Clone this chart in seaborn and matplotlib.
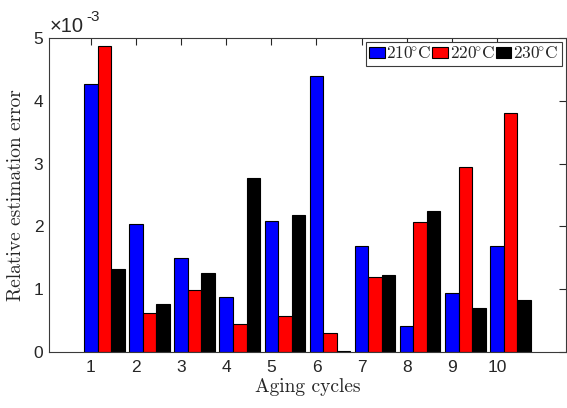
import matplotlib
matplotlib.use("Agg")
import matplotlib.pyplot as plt
import seaborn as sns
import pandas as pd
import numpy as np
from matplotlib.ticker import FuncFormatter, FixedLocator
from matplotlib.patches import Patch

cycles = ["1", "2", "3", "4", "5", "6", "7", "8", "9", "10"]
temps = ["210°C", "220°C", "230°C"]
err_210 = [4.26e-3, 2.03e-3, 1.49e-3, 0.88e-3, 2.09e-3, 4.39e-3, 1.69e-3, 0.42e-3, 0.94e-3, 1.68e-3]
err_220 = [4.88e-3, 0.62e-3, 0.98e-3, 0.44e-3, 0.58e-3, 0.31e-3, 1.19e-3, 2.07e-3, 2.94e-3, 3.80e-3]
err_230 = [1.32e-3, 0.76e-3, 1.26e-3, 2.77e-3, 2.18e-3, 0.01e-3, 1.23e-3, 2.245e-3, 0.70e-3, 0.82e-3]
colors = ["#0000ff", "#ff0000", "#000000"]

df = pd.DataFrame({
    "cycle": cycles * 3,
    "temp": [temps[0]] * 10 + [temps[1]] * 10 + [temps[2]] * 10,
    "err": err_210 + err_220 + err_230,
})

sns.set_style("white")
plt.rcParams["mathtext.fontset"] = "cm"
plt.rcParams["font.family"] = ["Liberation Sans", "DejaVu Sans"]
plt.rcParams["axes.unicode_minus"] = False

fig = plt.figure(figsize=(5.67, 4.08), dpi=100)
ax = fig.add_axes([0.0864, 0.1373, 0.9116, 0.7696])

sns.barplot(data=df, x="cycle", y="err", hue="temp", order=cycles, hue_order=temps,
            palette=colors, width=0.9, saturation=1, errorbar=None,
            edgecolor="black", linewidth=0.8, ax=ax, legend=False)

ax.set_xlim(-1.23, 10.23)
ax.set_ylim(0, 5e-3)
ax.xaxis.set_major_locator(FixedLocator([i - 0.3 for i in range(10)]))
ax.set_xticklabels(cycles)
ax.yaxis.set_major_locator(FixedLocator([0, 1e-3, 2e-3, 3e-3, 4e-3, 5e-3]))
ax.yaxis.set_major_formatter(FuncFormatter(lambda v, p: f"{v*1e3:g}"))
ax.tick_params(direction="in", length=5, width=0.8, top=True, right=True,
               labelsize=12.5, colors="#262626", pad=6)
ax.tick_params(axis="y", pad=4)
for s in ax.spines.values():
    s.set_visible(True)
    s.set_color("#3a3a3a")
    s.set_linewidth(0.8)

ax.text(0.002, 1.005, "×10", transform=ax.transAxes,
        fontsize=14.5, color="#262626", ha="left", va="bottom")
ax.text(0.072, 1.045, "-3", transform=ax.transAxes,
        fontsize=11, color="#262626", ha="left", va="bottom")

ax.set_xlabel("Aging cycles", fontsize=14, labelpad=2, family="cmr10")
ax.set_ylabel("Relative estimation error", fontsize=14, labelpad=6, family="cmr10")

handles = [Patch(facecolor=c, edgecolor="black", linewidth=0.8) for c in colors]
labels = [r"$\mathrm{" + t[:3] + r"}\!^{\circ}\mathrm{C}$" for t in temps]
leg = ax.legend(handles, labels, ncol=3, loc="upper right",
                prop={"size": 12.5},
                handlelength=0.9, handleheight=0.6, handletextpad=0.1,
                columnspacing=0.05, borderpad=0.2, borderaxespad=0.25,
                fancybox=False, framealpha=1, edgecolor="#3a3a3a")
leg.get_frame().set_linewidth(0.8)

fig.savefig("out.png", dpi=100)
